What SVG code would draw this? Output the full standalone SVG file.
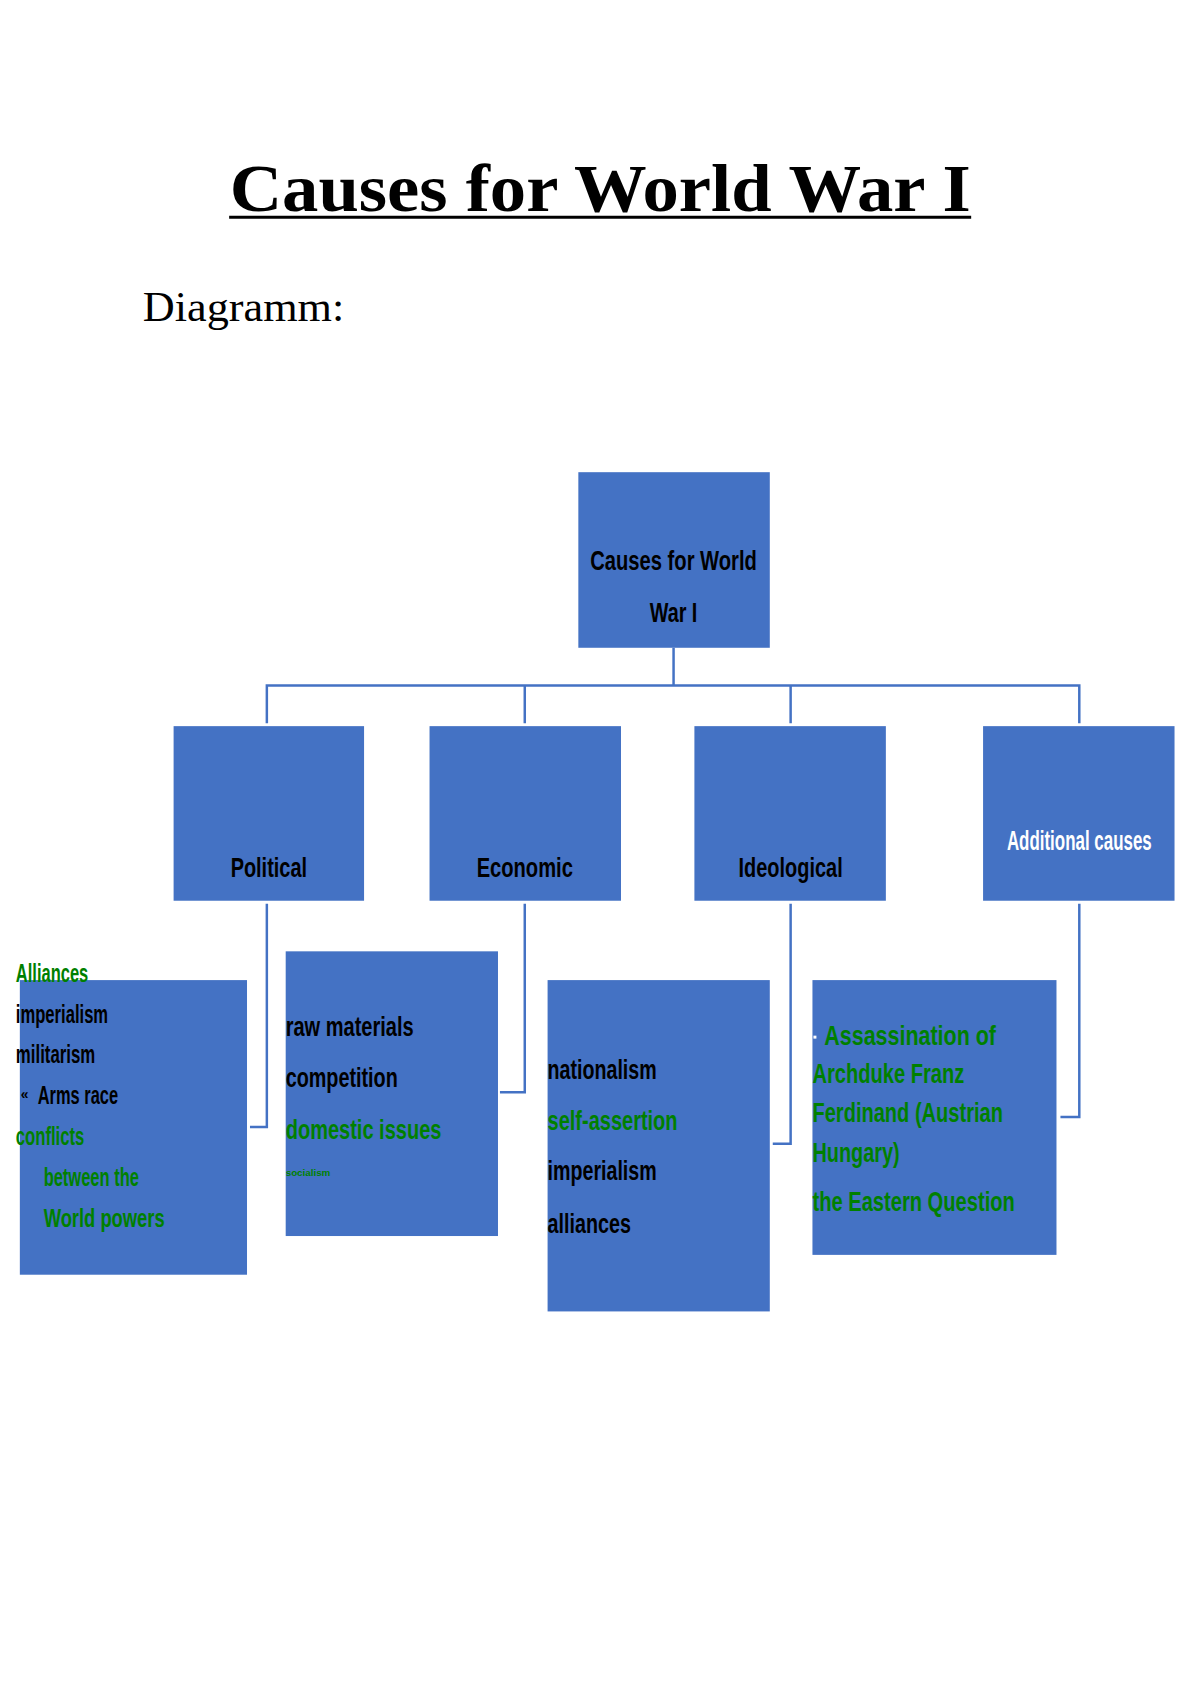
<svg xmlns="http://www.w3.org/2000/svg" width="1200" height="1698" viewBox="0 0 1200 1698">
<style>
.box{fill:#4472C4}
.c{fill:none;stroke:#4472C4;stroke-width:2.5}
text{font-family:"Liberation Sans Narrow","Liberation Sans",Arial,sans-serif}
.t{font-size:28px;font-weight:bold;fill:#000}
.g{fill:#008000}
.k{fill:#000}
.w{fill:#fff}
.s{font-size:26px;font-weight:bold}
</style>
<rect width="1200" height="1698" fill="#fff"/>
<g transform="scale(0.992)">
<text x="605" y="213" text-anchor="middle" style="font-family:'Liberation Serif',serif;font-weight:bold;font-size:68px" textLength="747" lengthAdjust="spacingAndGlyphs">Causes for World War I</text>
<line x1="231" y1="219" x2="979" y2="219" stroke="#000" stroke-width="3"/>
<text x="144" y="324" style="font-family:'Liberation Serif',serif;font-size:42px" textLength="203" lengthAdjust="spacingAndGlyphs">Diagramm:</text>

<g id="connectors">
<path class="c" d="M679 653V691M269 729V691H1088V729M529 691V729M797 691V729"/>
<path class="c" d="M269 911V1136H252"/>
<path class="c" d="M529 911V1101H504"/>
<path class="c" d="M797 911V1153H779"/>
<path class="c" d="M1088 911V1126H1069"/>
</g>

<g id="root"><rect class="box" x="583" y="476" width="193" height="177"/>
<text class="t" x="679" y="575" text-anchor="middle" textLength="168" lengthAdjust="spacingAndGlyphs">Causes for World</text>
<text class="t" x="679" y="627" text-anchor="middle" textLength="48" lengthAdjust="spacingAndGlyphs">War I</text></g>

<g id="political"><rect class="box" x="175" y="732" width="192" height="176"/>
<text class="t" x="271" y="884" text-anchor="middle" textLength="77" lengthAdjust="spacingAndGlyphs">Political</text></g>
<g id="economic"><rect class="box" x="433" y="732" width="193" height="176"/>
<text class="t" x="529" y="884" text-anchor="middle" textLength="97" lengthAdjust="spacingAndGlyphs">Economic</text></g>
<g id="ideological"><rect class="box" x="700" y="732" width="193" height="176"/>
<text class="t" x="797" y="884" text-anchor="middle" textLength="105" lengthAdjust="spacingAndGlyphs">Ideological</text></g>
<g id="additional"><rect class="box" x="991" y="732" width="193" height="176"/>
<text class="t w" x="1088" y="857" text-anchor="middle" textLength="146" lengthAdjust="spacingAndGlyphs">Additional causes</text></g>

<g id="political-items"><rect class="box" x="20" y="988" width="229" height="297"/>
<text class="s g" x="16" y="990" textLength="73" lengthAdjust="spacingAndGlyphs">Alliances</text>
<text class="s k" x="16" y="1031" textLength="93" lengthAdjust="spacingAndGlyphs">imperialism</text>
<text class="s k" x="16" y="1072" textLength="80" lengthAdjust="spacingAndGlyphs">militarism</text>
<text class="k" x="21" y="1108" style="font-size:14px;font-weight:bold">«</text>
<text class="s k" x="38" y="1113" textLength="81" lengthAdjust="spacingAndGlyphs">Arms race</text>
<text class="s g" x="16" y="1154" textLength="69" lengthAdjust="spacingAndGlyphs">conflicts</text>
<text class="s g" x="44" y="1196" textLength="96" lengthAdjust="spacingAndGlyphs">between the</text>
<text class="s g" x="44" y="1237" textLength="122" lengthAdjust="spacingAndGlyphs">World    powers</text></g>

<g id="economic-items"><rect class="box" x="288" y="959" width="214" height="287"/>
<text class="s k" x="288" y="1044" style="font-size:28px" textLength="129" lengthAdjust="spacingAndGlyphs">raw materials</text>
<text class="s k" x="288" y="1096" style="font-size:28px" textLength="113" lengthAdjust="spacingAndGlyphs">competition</text>
<text class="s g" x="288" y="1148" style="font-size:28px" textLength="157" lengthAdjust="spacingAndGlyphs">domestic issues</text>
<text class="g" x="288" y="1185" style="font-size:10px;font-weight:bold" textLength="45" lengthAdjust="spacingAndGlyphs">socialism</text></g>

<g id="ideological-items"><rect class="box" x="552" y="988" width="224" height="334"/>
<text class="s k" x="552" y="1088" style="font-size:28px" textLength="110" lengthAdjust="spacingAndGlyphs">nationalism</text>
<text class="s g" x="552" y="1139" style="font-size:28px" textLength="131" lengthAdjust="spacingAndGlyphs">self-assertion</text>
<text class="s k" x="552" y="1190" style="font-size:28px" textLength="110" lengthAdjust="spacingAndGlyphs">imperialism</text>
<text class="s k" x="552" y="1243" style="font-size:28px" textLength="84" lengthAdjust="spacingAndGlyphs">alliances</text></g>

<g id="additional-items"><rect class="box" x="819" y="988" width="246" height="277"/>
<rect x="820" y="1044" width="3" height="3" fill="#fff"/>
<text class="s g" x="831" y="1053" style="font-size:28px" textLength="173" lengthAdjust="spacingAndGlyphs">Assassination   of</text>
<text class="s g" x="819" y="1092" style="font-size:28px" textLength="153" lengthAdjust="spacingAndGlyphs">Archduke Franz</text>
<text class="s g" x="819" y="1131" style="font-size:28px" textLength="192" lengthAdjust="spacingAndGlyphs">Ferdinand (Austrian</text>
<text class="s g" x="819" y="1171" style="font-size:28px" textLength="88" lengthAdjust="spacingAndGlyphs">Hungary)</text>
<text class="s g" x="819" y="1221" style="font-size:28px" textLength="204" lengthAdjust="spacingAndGlyphs">the Eastern Question</text></g>
</g>
</svg>
